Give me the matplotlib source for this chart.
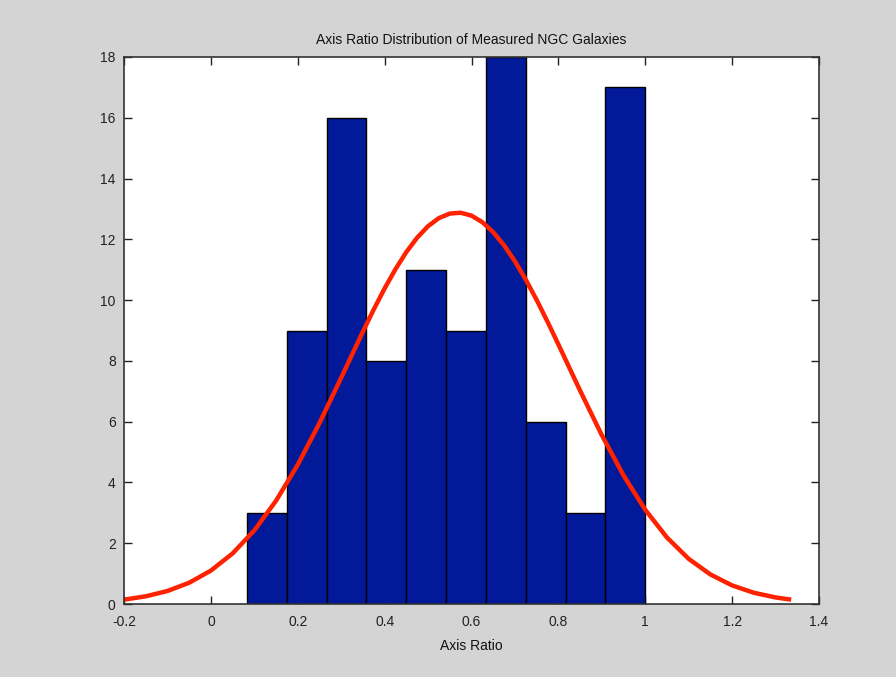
import matplotlib
matplotlib.use("Agg")
import matplotlib.pyplot as plt
import numpy as np

# Histogram data (10 bins)
bin_edges = [0.0830, 0.1747, 0.2664, 0.3581, 0.4498, 0.5415, 0.6332, 0.7249, 0.8166, 0.9083, 1.0000]
counts = [3, 9, 16, 8, 11, 9, 18, 6, 3, 17]

# Fitted normal curve
curve_x = [-0.20, -0.15, -0.10, -0.05, 0.00, 0.05, 0.10, 0.15, 0.20, 0.25, 0.30,
           0.35, 0.375, 0.40, 0.425, 0.45, 0.475, 0.50, 0.525, 0.55, 0.575, 0.60,
           0.625, 0.65, 0.675, 0.70, 0.725, 0.75, 0.775, 0.80, 0.85,
           0.90, 0.95, 1.00, 1.05, 1.10, 1.15, 1.20, 1.25, 1.30, 1.336]
curve_y = [0.143, 0.252, 0.428, 0.699, 1.099, 1.663, 2.423, 3.397, 4.584, 5.954, 7.446,
           8.963, 9.695, 10.385, 11.019, 11.582, 12.057, 12.433, 12.700, 12.848, 12.875, 12.780,
           12.564, 12.236, 11.803, 11.277, 10.672, 10.004, 9.289, 8.543, 7.022,
           5.555, 4.231, 3.101, 2.188, 1.486, 0.972, 0.612, 0.370, 0.216, 0.143]

xticks = [-0.2, 0, 0.2, 0.4, 0.6, 0.8, 1.0, 1.2, 1.4]
xtick_labels = ["-0.2", "0", "0.2", "0.4", "0.6", "0.8", "1", "1.2", "1.4"]
yticks = [0, 2, 4, 6, 8, 10, 12, 14, 16, 18]

plt.rcParams['font.family'] = ['Liberation Sans', 'DejaVu Sans']

fig = plt.figure(figsize=(8.96, 6.77), dpi=100, facecolor='#d4d4d4')
ax = fig.add_axes([124/896, 1 - 604/677, (819 - 124)/896, (604 - 57)/677])
ax.set_facecolor('white')

lefts = bin_edges[:-1]
widths = np.diff(bin_edges)
ax.bar(lefts, counts, width=widths, align='edge', color='#021a9a',
       edgecolor='black', linewidth=1.0, zorder=2)

ax.plot(curve_x, curve_y, color='#ff2200', linewidth=3.2, zorder=3,
        solid_capstyle='butt', solid_joinstyle='round')

ax.set_xlim(-0.2, 1.4)
ax.set_ylim(0, 18)
ax.set_xticks(xticks)
ax.set_xticklabels(xtick_labels)
ax.set_yticks(yticks)
ax.tick_params(direction='in', length=6, width=1, top=True, right=True,
               labelsize=10, colors='#222222')
ax.tick_params(axis='x', pad=8)
ax.tick_params(axis='y', pad=6)
for s in ax.spines.values():
    s.set_color('#333333')
    s.set_linewidth(1.2)
    s.set_zorder(4)

ax.set_title('Axis Ratio Distribution of Measured NGC Galaxies', fontsize=10,
             color='#111111', pad=9)
ax.set_xlabel('Axis Ratio', fontsize=10, color='#111111', labelpad=7)

fig.savefig('out.png', dpi=100, facecolor=fig.get_facecolor())
